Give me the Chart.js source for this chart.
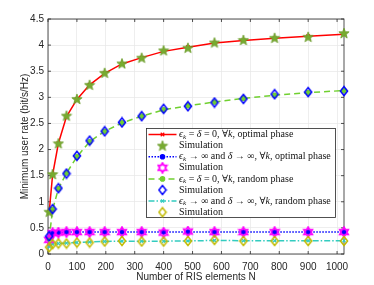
<!DOCTYPE html>
<html>
<head>
<meta charset="utf-8">
<script src="https://cdn.jsdelivr.net/npm/chart.js@4.4.0/dist/chart.umd.min.js"></script>
<style>
  html, body { margin: 0; padding: 0; background: #fff; }
  #wrap { width: 374px; height: 285px; }
</style>
</head>
<body>
<div id="wrap"><canvas id="c" width="374" height="285"></canvas></div>
<script>
// --- Data ---
const nElements = [4, 16, 36, 64, 100, 144, 196, 256, 324, 400, 484, 576, 676, 784, 900, 1024];

const optPhaseTheory = [0.80, 1.52, 2.12, 2.63, 2.96, 3.24, 3.46, 3.64, 3.76, 3.88, 3.96, 4.04, 4.09, 4.13, 4.17, 4.21];
const optPhaseSim    = [0.81, 1.53, 2.12, 2.65, 2.97, 3.24, 3.47, 3.65, 3.76, 3.90, 3.95, 4.05, 4.10, 4.14, 4.16, 4.23];

const optPhaseInfTheory = [0.30, 0.40, 0.41, 0.42, 0.42, 0.42, 0.42, 0.42, 0.42, 0.42, 0.42, 0.42, 0.42, 0.42, 0.42, 0.42];
const optPhaseInfSim    = [0.27, 0.40, 0.41, 0.42, 0.42, 0.42, 0.42, 0.42, 0.42, 0.41, 0.43, 0.42, 0.42, 0.42, 0.42, 0.42];

const randPhaseTheory = [0.30, 0.85, 1.25, 1.55, 1.86, 2.15, 2.35, 2.51, 2.64, 2.76, 2.84, 2.91, 2.98, 3.04, 3.09, 3.13];
const randPhaseSim    = [0.34, 0.86, 1.26, 1.54, 1.88, 2.17, 2.35, 2.52, 2.64, 2.78, 2.83, 2.90, 2.97, 3.06, 3.10, 3.12];

const randPhaseInfTheory = [0.14, 0.19, 0.20, 0.21, 0.22, 0.23, 0.24, 0.245, 0.245, 0.245, 0.25, 0.26, 0.255, 0.255, 0.255, 0.255];
const randPhaseInfSim    = [0.13, 0.19, 0.20, 0.20, 0.22, 0.22, 0.24, 0.25, 0.24, 0.24, 0.25, 0.27, 0.25, 0.25, 0.25, 0.25];

const xTickValues = [0, 100, 200, 300, 400, 500, 600, 700, 800, 900, 1000];
const yTickValues = [0, 0.5, 1, 1.5, 2, 2.5, 3, 3.5, 4, 4.5];

// legend text, split into pieces (n = normal, i = italic, sub = italic subscript)
const legendLabels = [
  [['ϵ','i'],['k','sub'],[' = ','n'],['δ','i'],[' = 0, ∀','n'],['k','i'],[', optimal phase','n']],
  [['Simulation','n']],
  [['ϵ','i'],['k','sub'],[' → ∞ and ','n'],['δ','i'],[' → ∞, ∀','n'],['k','i'],[', optimal phase','n']],
  [['Simulation','n']],
  [['ϵ','i'],['k','sub'],[' = ','n'],['δ','i'],[' = 0, ∀','n'],['k','i'],[', random phase','n']],
  [['Simulation','n']],
  [['ϵ','i'],['k','sub'],[' → ∞ and ','n'],['δ','i'],[' → ∞, ∀','n'],['k','i'],[', random phase','n']],
  [['Simulation','n']]
];

// --- Marker canvases (MATLAB-like pentagram / hexagram / diamond) ---
function makeMarker(w, h, draw) {
  const c = document.createElement('canvas');
  c.width = w; c.height = h;
  draw(c.getContext('2d'), w / 2, h / 2);
  return c;
}
function starPath(g, cx, cy, n, ro, ri) {
  g.beginPath();
  for (let i = 0; i < n * 2; i++) {
    const r = i % 2 === 0 ? ro : ri;
    const a = -Math.PI / 2 + i * Math.PI / n;
    g.lineTo(cx + r * Math.cos(a), cy + r * Math.sin(a));
  }
  g.closePath();
}
const pentagram = makeMarker(12, 12, (g, cx, cy) => {
  starPath(g, cx, cy + 0.5, 5, 5.4, 2.3);
  g.fillStyle = '#77AC30'; g.fill();
  g.strokeStyle = '#6A9A28'; g.lineWidth = 0.8; g.stroke();
});
const hexagram = makeMarker(12, 12, (g, cx, cy) => {
  starPath(g, cx, cy, 6, 4.8, 2.8);
  g.strokeStyle = '#FF00FF'; g.lineWidth = 1.8; g.stroke();
});
function diamond(color) {
  return makeMarker(10, 12, (g, cx, cy) => {
    g.beginPath();
    g.moveTo(cx, cy - 4.5); g.lineTo(cx + 3.6, cy); g.lineTo(cx, cy + 4.5); g.lineTo(cx - 3.6, cy);
    g.closePath();
    g.strokeStyle = color; g.lineWidth = 1.5; g.stroke();
  });
}
const blueDiamond = diamond('#0000FF');
const yellowDiamond = diamond('#C2BA00');

const pts = ys => nElements.map((x, i) => ({ x, y: ys[i] }));

function lineSet(ys, color, dash, style, radius, order) {
  return {
    data: pts(ys), showLine: true, borderColor: color, backgroundColor: color,
    borderWidth: 1.5, borderDash: dash, pointStyle: style, pointRadius: radius,
    pointBorderColor: color, pointBackgroundColor: color, pointBorderWidth: 1.2,
    clip: false, order: order
  };
}
function simSet(ys, marker, order) {
  return { data: pts(ys), showLine: false, pointStyle: marker, pointRadius: 5, clip: false, order: order };
}

const datasets = [
  lineSet(optPhaseTheory, '#FF0000', [], 'crossRot', 2.5, 17),
  simSet(optPhaseSim, pentagram, 3),
  lineSet(optPhaseInfTheory, '#0000FF', [1.5, 1.5], 'circle', 2.2, 16),
  simSet(optPhaseInfSim, hexagram, 2),
  lineSet(randPhaseTheory, '#70D030', [6, 4], 'circle', 2.2, 15),
  simSet(randPhaseSim, blueDiamond, 1),
  lineSet(randPhaseInfTheory, '#33CCC0', [6, 2, 1.5, 2], 'crossRot', 2.2, 14),
  simSet(randPhaseInfSim, yellowDiamond, 0)
];

// --- Plot box + inward tick marks ---
const framePlugin = {
  id: 'frame',
  beforeDatasetsDraw(chart) {
    const { ctx, chartArea: a, scales } = chart;
    ctx.save();
    ctx.strokeStyle = '#262626';
    ctx.lineWidth = 0.8;
    ctx.strokeRect(a.left, a.top, a.right - a.left, a.bottom - a.top);
    ctx.beginPath();
    xTickValues.forEach(v => {
      const x = scales.x.getPixelForValue(v);
      ctx.moveTo(x, a.bottom); ctx.lineTo(x, a.bottom - 3);
      ctx.moveTo(x, a.top); ctx.lineTo(x, a.top + 3);
    });
    yTickValues.forEach(v => {
      const y = scales.y.getPixelForValue(v);
      ctx.moveTo(a.left, y); ctx.lineTo(a.left + 3, y);
      ctx.moveTo(a.right, y); ctx.lineTo(a.right - 3, y);
    });
    ctx.stroke();
    ctx.restore();
  }
};

// --- Legend box inside the axes ---
const legendPlugin = {
  id: 'boxLegend',
  afterDraw(chart) {
    const ctx = chart.ctx;
    const box = { x: 146.5, y: 128.5, w: 189, h: 89 };
    const rowH = 11.1;
    ctx.save();
    ctx.fillStyle = '#fff';
    ctx.fillRect(box.x, box.y, box.w, box.h);
    ctx.strokeStyle = '#262626';
    ctx.lineWidth = 0.8;
    ctx.strokeRect(box.x, box.y, box.w, box.h);

    chart.data.datasets.forEach((ds, i) => {
      const y = box.y + 6 + i * rowH;
      if (ds.showLine) {
        ctx.save();
        ctx.strokeStyle = ds.borderColor;
        ctx.lineWidth = ds.borderWidth;
        ctx.setLineDash(ds.borderDash);
        ctx.beginPath(); ctx.moveTo(box.x + 2, y); ctx.lineTo(box.x + 30, y); ctx.stroke();
        ctx.restore();
        ctx.fillStyle = ds.pointBackgroundColor;
        ctx.strokeStyle = ds.pointBorderColor;
        ctx.lineWidth = ds.pointBorderWidth;
      }
      Chart.helpers.drawPoint(ctx, { pointStyle: ds.pointStyle, radius: ds.pointRadius, rotation: 0, borderWidth: 1.2 }, box.x + 16, y);

      let tx = box.x + 32.5;
      ctx.fillStyle = '#111';
      ctx.textBaseline = 'middle';
      legendLabels[i].forEach(([t, kind]) => {
        const fam = '"Liberation Serif", "DejaVu Serif", serif';
        let dy = 0;
        if (kind === 'n') ctx.font = '10px ' + fam;
        else if (kind === 'i') ctx.font = 'italic 10px ' + fam;
        else { ctx.font = 'italic 7px ' + fam; dy = 2.5; }
        ctx.fillText(t, tx, y + dy);
        tx += ctx.measureText(t).width;
      });
    });
    ctx.restore();
  }
};

const axisFont = { family: '"Liberation Sans", Arial, sans-serif', size: 10 };

new Chart(document.getElementById('c'), {
  type: 'scatter',
  data: { datasets },
  options: {
    responsive: false,
    animation: false,
    devicePixelRatio: 1,
    layout: { padding: { top: 19, right: 30, left: 0, bottom: 0 } },
    plugins: { legend: { display: false }, tooltip: { enabled: false } },
    scales: {
      x: {
        type: 'linear', min: 0, max: 1024,
        afterFit: s => { s.height = 31; },
        afterBuildTicks: s => { s.ticks = xTickValues.map(v => ({ value: v })); },
        ticks: { font: axisFont, color: '#262626', padding: 7, maxRotation: 0, callback: v => String(v) },
        grid: { color: '#e6e6e6', lineWidth: 0.7, drawTicks: false },
        border: { display: false },
        title: { display: true, text: 'Number of RIS elements N', font: axisFont, color: '#262626', padding: { top: 0, bottom: 2 } }
      },
      y: {
        type: 'linear', min: 0, max: 4.5,
        afterFit: s => { s.width = 48; },
        afterBuildTicks: s => { s.ticks = yTickValues.map(v => ({ value: v })); },
        ticks: { font: axisFont, color: '#262626', padding: 4, callback: v => String(v) },
        grid: { color: '#e6e6e6', lineWidth: 0.7, drawTicks: false },
        border: { display: false },
        title: { display: true, text: 'Minimum user rate (bit/s/Hz)', font: axisFont, color: '#262626', padding: { top: 19, bottom: 0 } }
      }
    }
  },
  plugins: [framePlugin, legendPlugin]
});
</script>
</body>
</html>
